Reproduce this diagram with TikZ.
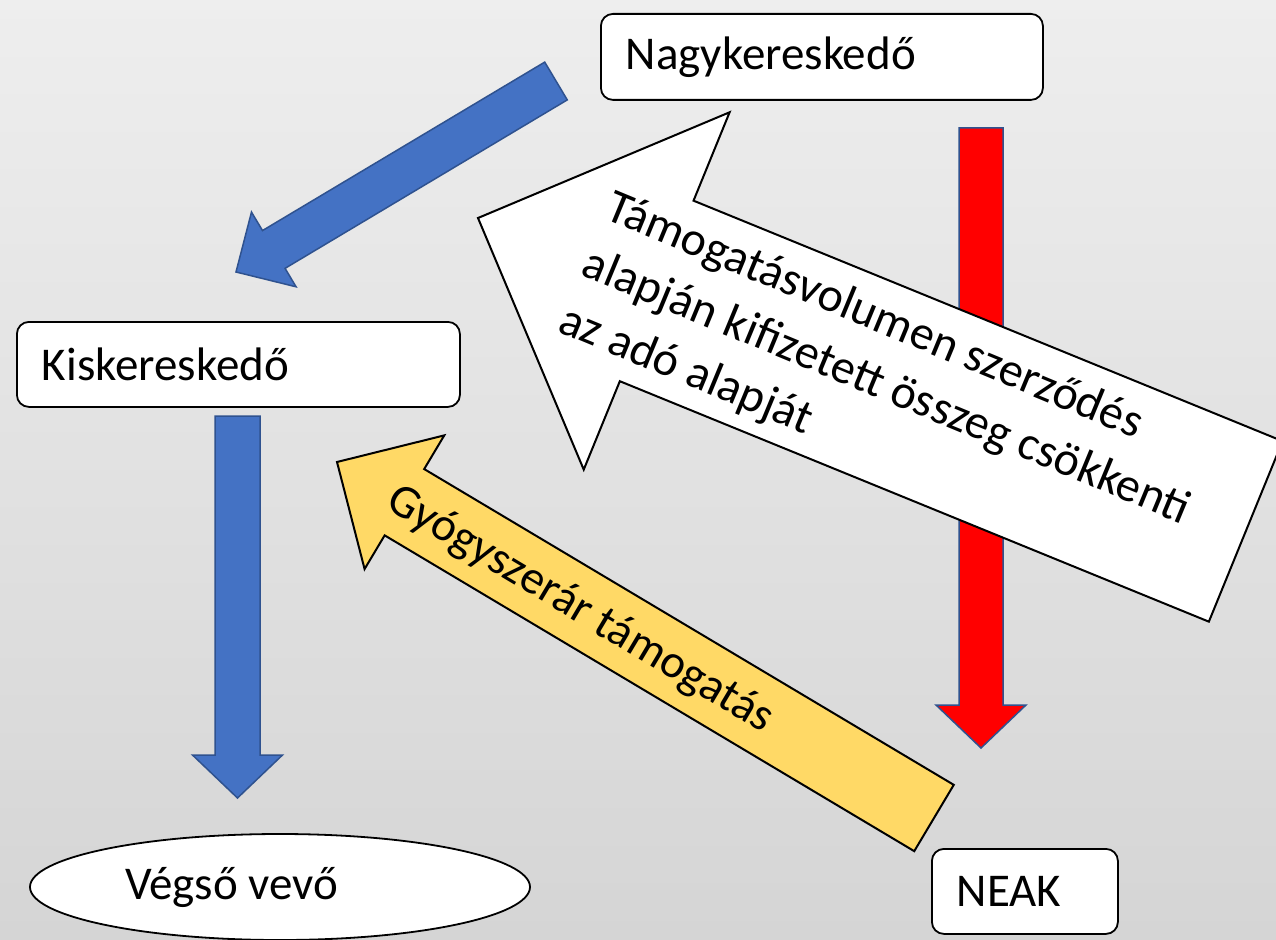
\documentclass[tikz,border=0pt]{standalone}
\usepackage{fontspec}
\setmainfont{Carlito}
\usetikzlibrary{calc,shapes.geometric}

\definecolor{bgtop}{HTML}{EEEEEE}
\definecolor{bgbottom}{HTML}{D5D5D5}
\definecolor{flowblue}{HTML}{4472C4}
\definecolor{flowedge}{HTML}{2F528F}
\definecolor{flowyellow}{HTML}{FFD966}

\newcommand{\slidefont}{\fontsize{47}{57}\selectfont}
\newcommand{\notefont}{\fontsize{48}{61}\selectfont}

% block arrow: [style]{tail}{tip}{half shaft}{half head}{head length}
\newcommand{\blockarrow}[6][]{%
  \coordinate (ba) at ($(#3)!#6!(#2)$);
  \filldraw[#1] ($(#2)!#4!90:(#3)$) -- ($(ba)!#4!-90:(#2)$)
    -- ($(ba)!#5!-90:(#2)$) -- (#3) -- ($(ba)!#5!90:(#2)$)
    -- ($(ba)!#4!90:(#2)$) -- ($(#2)!#4!-90:(#3)$) -- cycle;}

\tikzset{
  box/.style={draw, line width=1.8pt, fill=white, rounded corners=12pt,
    anchor=north west, inner xsep=25pt, align=left, font=\slidefont},
  bluearrow/.style={fill=flowblue, draw=flowedge, line width=1.5pt},
  redarrow/.style={fill=red, draw=flowedge, line width=1.5pt},
  whitearrow/.style={fill=white, draw=black, line width=2pt},
  yellowarrow/.style={fill=flowyellow, draw=black, line width=2pt},
}

\begin{document}
\begin{tikzpicture}[x=1pt,y=-1pt]
  \useasboundingbox (0,0) rectangle (1276,939);
  \fill[top color=bgtop, bottom color=bgbottom] (0,0) rectangle (1276,939);

  % ends of the flows
  \coordinate (nagy-out) at (556,81);
  \coordinate (kis-in) at (236,272);
  \coordinate (kis-out) at (237.5,416);
  \coordinate (vevo-in) at (237.5,798);
  \coordinate (nagy-down) at (981,128);
  \coordinate (neak-in) at (981,748);
  \coordinate (wtail) at (1245.7,531.4);
  \coordinate (wtip) at (478,218);
  \coordinate (neak-out) at (934,818);
  \coordinate (kis-back) at (337,462);

  \blockarrow[bluearrow]{nagy-out}{kis-in}{22pt}{43.5pt}{44pt}
  \blockarrow[bluearrow]{kis-out}{vevo-in}{22.5pt}{45pt}{43pt}
  \blockarrow[redarrow]{nagy-down}{neak-in}{22pt}{45pt}{43pt}
  \blockarrow[whitearrow]{wtail}{wtip}{97.5pt}{193pt}{193pt}
  \blockarrow[yellowarrow]{neak-out}{kis-back}{38.6pt}{77.8pt}{78.5pt}

  \node[rotate=-22.5, align=left, font=\notefont] (wtext) at (886,388)
    {Támogatásvolumen szerződés\\alapján kifizetett összeg csökkenti\\az adó alapját};
  \node[rotate=-30.8, font=\slidefont] (ytext) at (580,610) {Gyógyszerár támogatás};

  \node[box, text width=392pt, minimum height=86pt] (nagy) at (600,13) {Nagykereskedő};
  \node[box, text width=393pt, minimum height=85pt] (kis) at (16,321) {Kiskereskedő};
  \node[box, text width=136pt, minimum height=85pt] (neak) at (931,848) {NEAK};
  \node[ellipse, draw, line width=1.8pt, fill=white, minimum width=500pt,
    minimum height=106pt, font=\slidefont]
    (vevo) at (280,887) {\makebox[310pt][l]{Végső vevő}};
\end{tikzpicture}
\end{document}
